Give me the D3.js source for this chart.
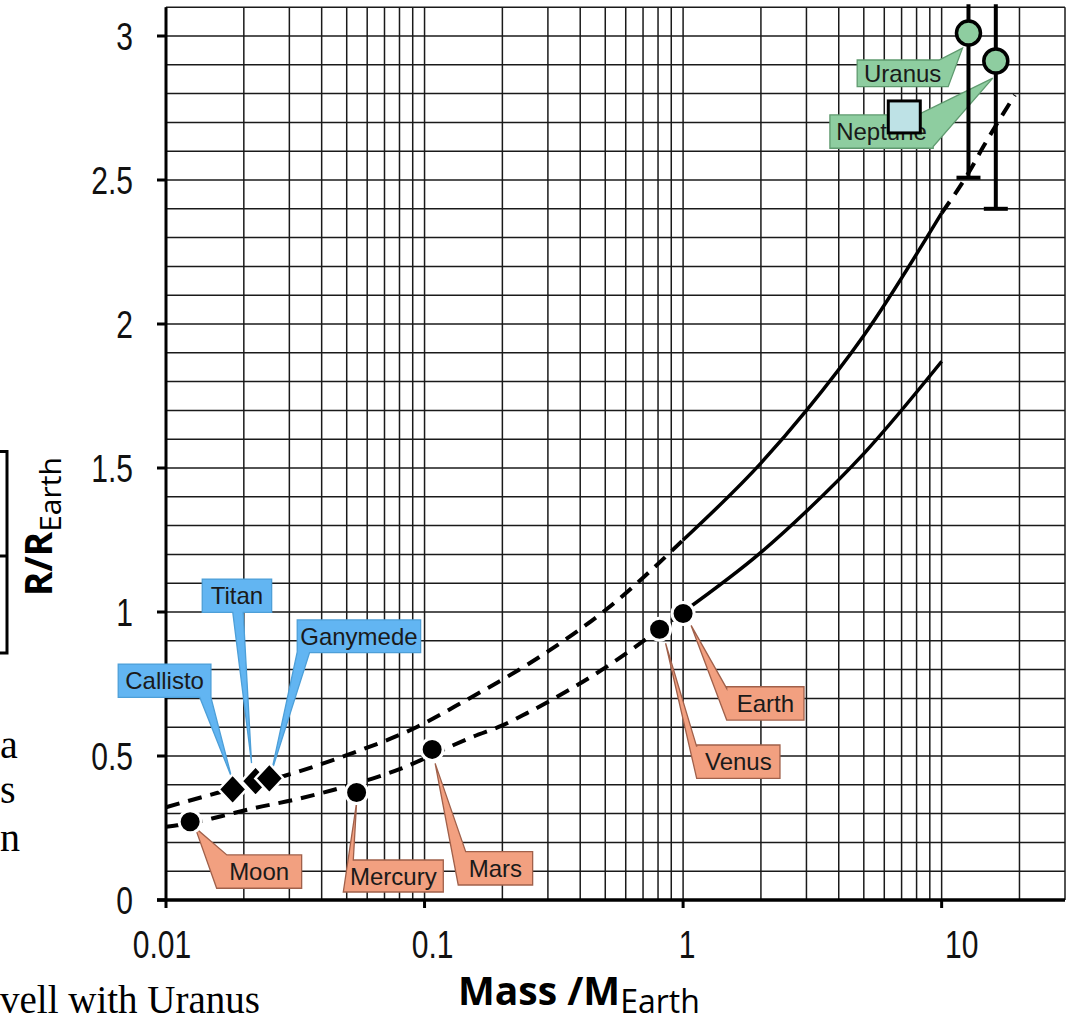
<!DOCTYPE html>
<html><head><meta charset="utf-8">
<script src="https://cdn.jsdelivr.net/npm/d3@7"></script>
<style>body{margin:0;background:#fff}svg{display:block}</style>
</head><body><svg id="c" width="1069" height="1023"></svg>
<script>
// ---------- data ----------
const rockyNames  = ["Moon", "Mercury", "Mars", "Venus", "Earth"];
const rockyMass   = [0.0124, 0.0546, 0.107, 0.811, 1.0];
const rockyRadius = [0.272, 0.373, 0.523, 0.940, 0.995];

const icyNames  = ["Callisto", "Titan", "Ganymede"];
const icyMass   = [0.0181, 0.0222, 0.0251];
const icyRadius = [0.384, 0.413, 0.422];

const giantNames  = ["Uranus", "Neptune"];
const giantMass   = [12.7, 16.2];
const giantRadius = [3.01, 2.913];
const giantLow    = [2.508, 2.40];
const giantHigh   = [3.11, 3.11];

const modelMass   = [7.17];
const modelRadius = [2.719];

const upperMass   = [0.01, 0.0148, 0.031, 0.05, 0.093, 0.141, 0.3, 0.5, 1, 2, 3, 5, 10, 12.9, 14.5, 19.2];
const upperRadius = [0.322, 0.365, 0.44, 0.503, 0.60, 0.688, 0.863, 1.006, 1.25, 1.517, 1.70, 1.96, 2.385, 2.535, 2.616, 2.795];

const lowerMass   = [0.01, 0.0124, 0.0162, 0.0217, 0.032, 0.0443, 0.0633, 0.0815, 0.125, 0.154, 0.201, 0.248, 0.5, 0.811, 1, 2, 3, 5, 10];
const lowerRadius = [0.254, 0.266, 0.29, 0.318, 0.35, 0.382, 0.4225, 0.457, 0.532, 0.567, 0.607, 0.648, 0.807, 0.94, 1.0, 1.207, 1.35, 1.55, 1.87];

const xTickValues = [0.01, 0.1, 1, 10];
const xTickLabels = ["0.01", "0.1", "1", "10"];
const yTickValues = [0, 0.5, 1, 1.5, 2, 2.5, 3];
const yTickLabels = ["0", "0.5", "1", "1.5", "2", "2.5", "3"];

// ---------- layout ----------
const xLabelShift = [-4, 8, 4, 20];   // px shift of x tick labels, as drawn in the source
const SALMON = "#F2A080", BLUE = "#62B5F2", GREEN = "#8ECDA0";
const labelLayout = {
  Moon:     {fill: SALMON, box: [26.5, 33.3, 85, 33.3],   tip: [5, 6],     base: [3.0, 0.12]},
  Mercury:  {fill: SALMON, box: [-13.3, 67.4, 100, 32],   tip: [0, 10],    base: [3.0, 0.1]},
  Mars:     {fill: SALMON, box: [26.1, 102.3, 74.4, 33.3],tip: [3, 14],    base: [3.0, 0.1]},
  Venus:    {fill: SALMON, box: [37.1, 115.7, 83.3, 33.3],tip: [6, 14],    base: [3.0, 3.95]},
  Earth:    {fill: SALMON, box: [43.6, 73.3, 77.3, 33.3], tip: [8, 12],    base: [3.0, 3.95]},
  Callisto: {fill: BLUE,   box: [-114.4, -125.3, 92.7, 33.3], tip: [-1, -12], base: [2.0, 2.12]},
  Titan:    {fill: BLUE,   box: [-53.3, -202, 69.4, 33.3],    tip: [-4, -18], base: [2.41, 2.56]},
  Ganymede: {fill: BLUE,   box: [27.9, -158.5, 123.4, 32.7],  tip: [2, -6],   base: [2.9, 3.02]},
  Uranus:   {fill: GREEN,  box: [-111.3, 26.9, 91, 26.7],     tip: [-6, 15],  base: [0.9, 2.0]},
  Neptune:  {fill: GREEN,  box: [-165.9, 53.9, 103.3, 33.3],  tip: [-3, 17],  base: [0.85, 1.95]}
};

// ---------- scales ----------
const svg = d3.select("#c");
const x = d3.scaleLog().domain([0.01, 30]).range([166, 1065]);
const y = d3.scaleLinear().domain([0, 3.1]).range([900, 7.2]);

// ---------- grid ----------
const grid = svg.append("g").attr("stroke", "#1a1a1a").attr("stroke-width", 1.5);
const vGrid = [];
[0.01, 0.1, 1, 10].forEach(d => { for (let k = 1; k <= 9; k++) { const v = d * k; if (v <= 30.0001) vGrid.push(v); } });
grid.selectAll("line.v").data(vGrid).join("line")
  .attr("x1", d => x(d)).attr("x2", d => x(d)).attr("y1", y(3.1)).attr("y2", y(0));
grid.selectAll("line.h").data(d3.range(0, 32).map(i => i / 10)).join("line")
  .attr("x1", x(0.01)).attr("x2", x(30)).attr("y1", d => y(d)).attr("y2", d => y(d));

// ---------- curves ----------
const line = d3.line().x(d => x(d[0])).y(d => y(d[1])).curve(d3.curveMonotoneX);
const upper = upperMass.map((m, i) => [m, upperRadius[i]]);
const lower = lowerMass.map((m, i) => [m, lowerRadius[i]]);
const curves = svg.append("g").attr("fill", "none").attr("stroke", "#000");
function seg(pts, lo, hi, dashed) {
  curves.append("path").datum(pts.filter(p => p[0] >= lo && p[0] <= hi))
    .attr("d", line).attr("stroke-width", dashed ? 4 : 3.5)
    .attr("stroke-dasharray", dashed ? "14,9" : null);
}
seg(upper, 0.01, 1, true); seg(upper, 1, 10, false); seg(upper, 10, 30, true);
seg(lower, 0.01, 1, true); seg(lower, 1, 10, false);

// ---------- axes ----------
const ax = svg.append("g");
ax.append("line").attr("x1", x(0.01)).attr("x2", x(0.01)).attr("y1", y(3.1)).attr("y2", y(0))
  .attr("stroke", "#000").attr("stroke-width", 3);
ax.append("line").attr("x1", 157).attr("x2", x(30)).attr("y1", y(0)).attr("y2", y(0))
  .attr("stroke", "#000").attr("stroke-width", 3.5);
ax.selectAll("line.yt").data(yTickValues).join("line")
  .attr("x1", 157).attr("x2", x(0.01)).attr("y1", d => y(d)).attr("y2", d => y(d))
  .attr("stroke", "#000").attr("stroke-width", 3);
ax.selectAll("line.xt").data(xTickValues).join("line")
  .attr("x1", d => x(d)).attr("x2", d => x(d)).attr("y1", y(0)).attr("y2", y(0) + 8)
  .attr("stroke", "#000").attr("stroke-width", 3);
const tickFont = "'Liberation Sans',Arial,sans-serif";
const SX = 0.77;
ax.selectAll("text.yl").data(yTickValues).join("text")
  .attr("transform", d => `translate(133,${y(d)}) scale(${SX},1)`)
  .attr("dy", "0.36em").attr("text-anchor", "end")
  .attr("font-family", tickFont).attr("font-size", 39).attr("fill", "#111")
  .text((d, i) => yTickLabels[i]);
ax.selectAll("text.xl").data(xTickValues).join("text")
  .attr("transform", (d, i) => `translate(${x(d) + xLabelShift[i]},958) scale(${SX},1)`)
  .attr("text-anchor", "middle")
  .attr("font-family", tickFont).attr("font-size", 39).attr("fill", "#111")
  .text((d, i) => xTickLabels[i]);

// axis titles
const titleFont = "'Open Sans','Liberation Sans',sans-serif";
const xt = svg.append("text").attr("x", 458).attr("y", 1005)
  .attr("font-family", titleFont).attr("fill", "#000");
xt.append("tspan").attr("font-size", 39).attr("font-weight", "bold").text("Mass /M");
xt.append("tspan").attr("font-size", 32).attr("dy", 8).text("Earth");
const yt = svg.append("text").attr("transform", "translate(52,596) rotate(-90)")
  .attr("font-family", titleFont).attr("fill", "#000");
yt.append("tspan").attr("font-size", 37).attr("font-weight", "bold").text("R/R");
yt.append("tspan").attr("font-size", 30).attr("dy", 9).text("Earth");

// ---------- callouts ----------
function perim(s, L, T, w, h) {
  s = ((s % 4) + 4) % 4; const e = Math.floor(s), f = s - e;
  if (e === 0) return [L + f * w, T];
  if (e === 1) return [L + w, T + f * h];
  if (e === 2) return [L + w - f * w, T + h];
  return [L, T + h - f * h];
}
function calloutPath(cx, cy, lay) {
  const [dx, dy, w, h] = lay.box, L = cx + dx, T = cy + dy;
  let s1 = lay.base[0], s2 = lay.base[1];
  if (s2 < s1) s2 += 4;
  const end = s1 + 4, pts = [perim(s2, L, T, w, h)];
  for (let c = Math.floor(s2) + 1; c < end; c++) pts.push(perim(c, L, T, w, h));
  pts.push(perim(s1, L, T, w, h));
  pts.push([cx + lay.tip[0], cy + lay.tip[1]]);
  return "M" + pts.map(p => p.join(",")).join("L") + "Z";
}
const allPts = [];
rockyNames.forEach((n, i) => allPts.push({n, m: rockyMass[i], r: rockyRadius[i]}));
icyNames.forEach((n, i) => allPts.push({n, m: icyMass[i], r: icyRadius[i]}));
giantNames.forEach((n, i) => allPts.push({n, m: giantMass[i], r: giantRadius[i]}));
const co = svg.append("g");
allPts.forEach(p => {
  const lay = labelLayout[p.n], cx = x(p.m), cy = y(p.r);
  co.append("path").attr("d", calloutPath(cx, cy, lay)).attr("fill", lay.fill)
    .attr("stroke", lay.fill === BLUE ? "#4d9fd8" : (lay.fill === GREEN ? "#5f9a6f" : "#a0604a"))
    .attr("stroke-width", 1.3);
  co.append("text").attr("x", cx + lay.box[0] + lay.box[2] / 2).attr("y", cy + lay.box[1] + lay.box[3] / 2)
    .attr("dy", "0.36em").attr("text-anchor", "middle")
    .attr("font-family", "'Liberation Sans',Arial,sans-serif").attr("font-size", 24).attr("fill", "#1a1a1a")
    .text(p.n);
});

// ---------- error bars ----------
const eb = svg.append("g").attr("stroke", "#000").attr("stroke-width", 4);
giantNames.forEach((n, i) => {
  const cx = x(giantMass[i]);
  eb.append("line").attr("x1", cx).attr("x2", cx).attr("y1", y(giantHigh[i])).attr("y2", y(giantLow[i]));
  eb.append("line").attr("x1", cx - 12).attr("x2", cx + 12).attr("y1", y(giantLow[i])).attr("y2", y(giantLow[i]));
});

// ---------- markers ----------
const mk = svg.append("g");
mk.selectAll("circle.rock").data(rockyMass).join("circle")
  .attr("cx", d => x(d)).attr("cy", (d, i) => y(rockyRadius[i])).attr("r", 11)
  .attr("fill", "#000").attr("stroke", "#fff").attr("stroke-width", 3);
mk.selectAll("path.icy").data(icyMass).join("path")
  .attr("transform", (d, i) => `translate(${x(d)},${y(icyRadius[i])})`)
  .attr("d", "M0,-15L14,0L0,15L-14,0Z")
  .attr("fill", "#000").attr("stroke", "#fff").attr("stroke-width", 2.5);
mk.selectAll("circle.giant").data(giantMass).join("circle")
  .attr("cx", d => x(d)).attr("cy", (d, i) => y(giantRadius[i])).attr("r", 12)
  .attr("fill", GREEN).attr("stroke", "#000").attr("stroke-width", 3.5);
mk.selectAll("rect.model").data(modelMass).join("rect")
  .attr("x", d => x(d) - 16).attr("y", (d, i) => y(modelRadius[i]) - 16)
  .attr("width", 32).attr("height", 32)
  .attr("fill", "#BEE2E6").attr("stroke", "#000").attr("stroke-width", 3);

// ---------- page fragments around the figure ----------
const frag = svg.append("g").attr("stroke", "#000").attr("stroke-width", 3).attr("fill", "none");
frag.append("path").attr("d", "M0,451.5H7V653H0");
frag.append("line").attr("x1", 0).attr("x2", 6).attr("y1", 556).attr("y2", 556);
const serif = "'Liberation Serif','Times New Roman',serif";
[["a", 758], ["s", 803], ["n", 851]].forEach(([t, yy]) =>
  svg.append("text").attr("x", 0).attr("y", yy)
    .attr("font-family", serif).attr("font-size", 40).text(t));
svg.append("text").attr("x", 0).attr("y", 1013).attr("font-family", serif).attr("font-size", 39)
  .text("vell with Uranus");
</script></body></html>
